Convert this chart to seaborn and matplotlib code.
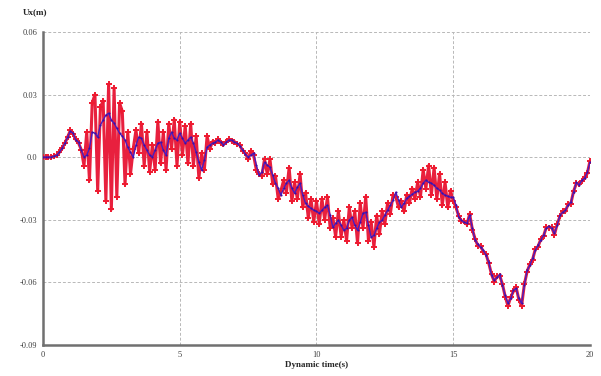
import numpy as np
import pandas as pd
import seaborn as sns
import matplotlib
matplotlib.use("Agg")
import matplotlib.pyplot as plt

# time axis (s), 0.1 s steps
time = np.round(np.arange(0, 201) * 0.1, 1)

# blue trace: smoother response
ux_blue = [
    0.0, 0.0, 0.0, 0.0, 0.0005, 0.001, 0.0024, 0.0043, 0.0067, 0.0096,
    0.0125, 0.0115, 0.0082, 0.0072, 0.0034, 0.0, 0.001, 0.0043, 0.012, 0.0115,
    0.0096, 0.0154, 0.0178, 0.0202, 0.0211, 0.0178, 0.0163, 0.0139, 0.0115, 0.0101,
    0.0082, 0.0048, 0.0024, 0.0, 0.0058, 0.0096, 0.0091, 0.0058, 0.0034, 0.001,
    0.0, 0.0034, 0.0067, 0.0072, 0.0034, 0.001, 0.0091, 0.012, 0.0091, 0.0082,
    0.0115, 0.0091, 0.0067, 0.0082, 0.0096, 0.0067, 0.0024, -0.0024, -0.0062, -0.0014,
    0.0048, 0.0058, 0.0067, 0.0072, 0.0082, 0.0072, 0.0058, 0.0072, 0.0082, 0.0082,
    0.0072, 0.0067, 0.0053, 0.0034, 0.0014, 0.0, 0.001, 0.0019, -0.0038, -0.0086,
    -0.0072, -0.0024, -0.0038, -0.0048, -0.0086, -0.0125, -0.0149, -0.0182, -0.0149, -0.0125,
    -0.011, -0.0149, -0.0173, -0.0144, -0.0125, -0.0182, -0.0221, -0.0235, -0.0245, -0.0254,
    -0.0259, -0.0269, -0.0254, -0.024, -0.023, -0.0278, -0.0336, -0.0317, -0.0302, -0.0326,
    -0.035, -0.0341, -0.0302, -0.0288, -0.0326, -0.035, -0.0312, -0.0269, -0.0264, -0.0326,
    -0.0384, -0.0374, -0.0341, -0.0312, -0.0302, -0.0278, -0.0254, -0.023, -0.0206, -0.0168,
    -0.0206, -0.024, -0.0221, -0.0197, -0.0187, -0.0178, -0.0168, -0.0163, -0.0149, -0.0125,
    -0.011, -0.012, -0.0125, -0.0134, -0.0149, -0.0158, -0.0173, -0.0182, -0.0187, -0.0192,
    -0.0192, -0.023, -0.0288, -0.0302, -0.0312, -0.0317, -0.0278, -0.0341, -0.0398, -0.0418,
    -0.0432, -0.0446, -0.047, -0.0504, -0.0566, -0.059, -0.0576, -0.0562, -0.0614, -0.0662,
    -0.0701, -0.0677, -0.0638, -0.0629, -0.0677, -0.0701, -0.0614, -0.0542, -0.0518, -0.0485,
    -0.0446, -0.0422, -0.0398, -0.0374, -0.0341, -0.0331, -0.0341, -0.0365, -0.0326, -0.0278,
    -0.0264, -0.0254, -0.023, -0.0216, -0.0168, -0.012, -0.0134, -0.011, -0.0101, -0.0072,
    -0.0024,
]

# red trace: same run, with the high frequency scatter
ux_red = [
    0.0, 0.0, 0.0, 0.0, 0.0005, 0.001, 0.0024, 0.0043, 0.0067, 0.0096,
    0.0128, 0.0112, 0.0085, 0.0068, 0.0036, -0.004, 0.012, -0.011, 0.026, 0.030,
    -0.016, 0.024, 0.027, -0.021, 0.035, -0.025, 0.033, -0.019, 0.026, 0.022,
    -0.013, 0.012, -0.008, 0.004, 0.013, 0.002, 0.016, -0.004, 0.012, -0.007,
    0.006, -0.006, 0.017, -0.003, 0.012, -0.006, 0.016, 0.004, 0.018, -0.004,
    0.017, 0.001, 0.015, -0.003, 0.016, -0.004, 0.010, -0.010, 0.002, -0.006,
    0.010, 0.004, 0.0075, 0.0068, 0.0085, 0.0068, 0.0062, 0.0075, 0.0085, 0.0078,
    0.0075, 0.0062, 0.0058, 0.003, 0.002, -0.001, 0.003, 0.001, -0.006, -0.008,
    -0.009, -0.001, -0.008, -0.001, -0.013, -0.009, -0.020, -0.016, -0.011, -0.017,
    -0.005, -0.021, -0.012, -0.020, -0.008, -0.024, -0.017, -0.029, -0.020, -0.031,
    -0.021, -0.032, -0.020, -0.030, -0.019, -0.034, -0.029, -0.038, -0.026, -0.038,
    -0.030, -0.040, -0.024, -0.034, -0.026, -0.041, -0.022, -0.034, -0.019, -0.040,
    -0.031, -0.043, -0.028, -0.037, -0.026, -0.032, -0.022, -0.027, -0.018, -0.019,
    -0.024, -0.021, -0.026, -0.018, -0.022, -0.015, -0.020, -0.012, -0.019, -0.006,
    -0.015, -0.004, -0.018, -0.005, -0.020, -0.008, -0.023, -0.012, -0.024, -0.016,
    -0.021, -0.024, -0.0282, -0.0308, -0.0306, -0.0322, -0.0272, -0.0347, -0.0392, -0.0424,
    -0.0427, -0.0452, -0.0465, -0.0509, -0.0561, -0.0596, -0.0571, -0.0568, -0.0609, -0.0668,
    -0.0712, -0.0671, -0.0643, -0.0624, -0.0683, -0.0712, -0.0609, -0.0548, -0.0513, -0.0491,
    -0.0441, -0.0428, -0.0393, -0.0379, -0.0336, -0.0337, -0.0336, -0.0371, -0.0321, -0.0284,
    -0.0259, -0.026, -0.0225, -0.0222, -0.0163, -0.0126, -0.0129, -0.0116, -0.0096, -0.0078,
    -0.0018,
]

y_ticks = [0.06, 0.03, 0.0, -0.03, -0.06, -0.09]
y_tick_labels = ["0.06", "0.03", "0.0", "-0.03", "-0.06", "-0.09"]
x_ticks = [0, 5, 10, 15, 20]

df = pd.DataFrame({"time": time, "red": ux_red, "blue": ux_blue})

sns.set_style("white")
plt.rcParams['font.family'] = ['Liberation Serif', 'DejaVu Serif']

fig = plt.figure(figsize=(6.01, 3.76), dpi=100)
ax = fig.add_axes([0.0715, 0.0824, 0.9102, 0.8325])

sns.lineplot(data=df, x="time", y="red", ax=ax, color="#e8203e", lw=2.2,
             marker="+", markersize=4.5, markeredgewidth=1.4,
             markeredgecolor="#ee1a30", zorder=3)
sns.lineplot(data=df, x="time", y="blue", ax=ax, color="#4a1cc0", lw=1.0,
             marker="o", markersize=1.5, markeredgewidth=0,
             markerfacecolor="#3a10a8", zorder=4)

ax.set_xlim(0, 20)
ax.set_ylim(-0.09, 0.06)
ax.set_xticks(x_ticks)
ax.set_xticklabels([str(v) for v in x_ticks])
ax.set_yticks(y_ticks)
ax.set_yticklabels(y_tick_labels)
ax.grid(True, color="#b8b8b8", lw=0.7, ls=(0, (3, 2)))
ax.set_axisbelow(True)

for s in ["top", "right"]:
    ax.spines[s].set_visible(False)
for s in ["left", "bottom"]:
    ax.spines[s].set_color("#707070")
    ax.spines[s].set_linewidth(1.8)

ax.tick_params(axis="both", labelsize=6, length=2, width=0.6,
               colors="#404040", pad=2)
ax.set_xlabel("Dynamic time(s)", fontsize=6.5, fontweight="bold", labelpad=2)
ax.set_ylabel("")
ax.text(-0.015, 1.05, "Ux(m)", transform=ax.transAxes, fontsize=6.5,
        fontweight="bold", ha="center", va="bottom")

fig.savefig("out.png", dpi=100)
